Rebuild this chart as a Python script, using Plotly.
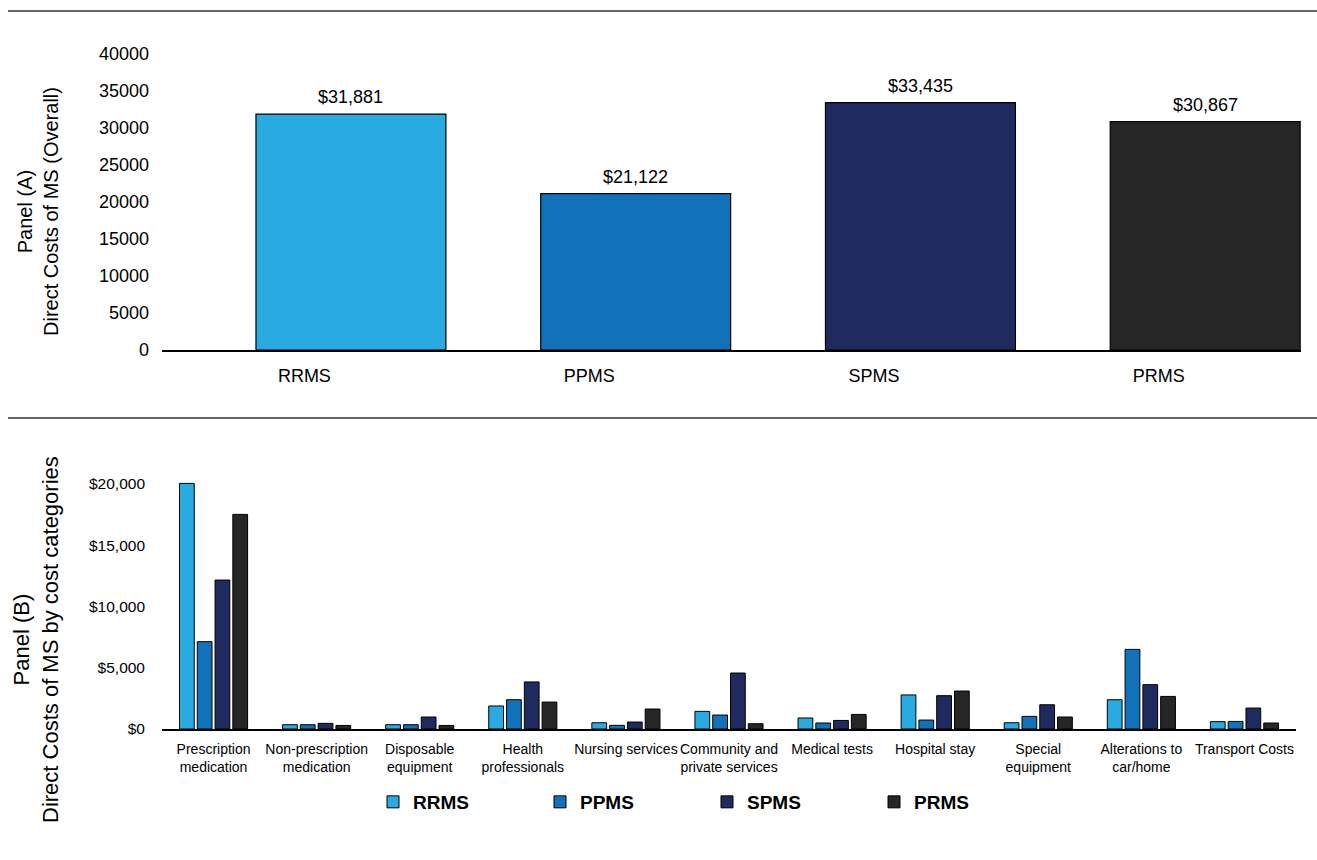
import plotly.graph_objects as go

# ---- data -------------------------------------------------------------
subtypes = ["RRMS", "PPMS", "SPMS", "PRMS"]
overall_costs = [31881, 21122, 33435, 30867]
subtype_colors = ["#29ABE2", "#1172BA", "#1F2A5E", "#262626"]

cost_categories = [
    "Prescription<br>medication",
    "Non-prescription<br>medication",
    "Disposable<br>equipment",
    "Health<br>professionals",
    "Nursing services",
    "Community and<br>private services",
    "Medical tests",
    "Hospital stay",
    "Special<br>equipment",
    "Alterations to<br>car/home",
    "Transport Costs",
]
rrms_costs = [20050, 350, 350, 1880, 510, 1440, 900, 2780, 510, 2390, 600]
ppms_costs = [7130, 350, 350, 2390, 300, 1140, 490, 730, 1030, 6500, 620]
spms_costs = [12160, 460, 980, 3840, 570, 4570, 700, 2720, 1980, 3620, 1710]
prms_costs = [17520, 290, 290, 2200, 1630, 430, 1190, 3100, 980, 2660, 490]

panel_b_series = [rrms_costs, ppms_costs, spms_costs, prms_costs]

# ---- layout constants ---------------------------------------------------
W, H = 1317, 860
ML, MR, MT, MB = 162, 16, 54, 131
PW, PH = W - ML - MR, H - MT - MB
FONT = "Arial, 'Liberation Sans', sans-serif"


def px_x(px):
    return (px - ML) / PW


def px_y(py):
    return (H - MB - py) / PH


bar_offset, bar_width = -0.17, 0.667

fig = go.Figure()

# Panel A: overall direct costs per subtype
fig.add_trace(go.Bar(
    x=list(range(len(subtypes))), y=overall_costs,
    marker=dict(color=subtype_colors, line=dict(color="#000000", width=1.2)),
    width=bar_width, offset=bar_offset, showlegend=False,
    hoverinfo="skip", xaxis="x", yaxis="y",
))
for i, v in enumerate(overall_costs):
    fig.add_annotation(
        x=i + bar_offset + bar_width / 2, y=v, xref="x", yref="y",
        text=f"${v:,.0f}", showarrow=False, yanchor="middle", yshift=17,
        font=dict(size=18, color="#000000", family=FONT),
    )

# Panel B: costs by category
for name, vals, col in zip(subtypes, panel_b_series, subtype_colors):
    fig.add_trace(go.Bar(
        x=cost_categories, y=vals, name=name,
        marker=dict(color=col, line=dict(color="#000000", width=1)),
        xaxis="x2", yaxis="y2", hoverinfo="skip",
    ))

fig.update_layout(
    width=W, height=H,
    margin=dict(l=ML, r=MR, t=MT, b=MB),
    paper_bgcolor="#FFFFFF", plot_bgcolor="#FFFFFF",
    font=dict(family=FONT, color="#000000"),
    barmode="group", bargap=0.31, bargroupgap=0.17,
    xaxis=dict(
        domain=[0, 1], anchor="y", range=[-0.5, 3.5],
        tickvals=list(range(len(subtypes))), ticktext=subtypes,
        tickfont=dict(size=18), ticks="", ticklabelstandoff=9,
        showline=True, linecolor="#000000", linewidth=1.5,
        showgrid=False, zeroline=False,
    ),
    yaxis=dict(
        domain=[px_y(350), 1], anchor="x", range=[0, 40000],
        dtick=5000, tickformat="d", tickfont=dict(size=18),
        ticks="", ticklabelstandoff=12,
        showline=False, showgrid=False, zeroline=False,
    ),
    xaxis2=dict(
        domain=[0, px_x(1296)], anchor="y2",
        tickfont=dict(size=14), ticks="", ticklabelstandoff=6,
        showline=True, linecolor="#000000", linewidth=1.5,
        showgrid=False, zeroline=False,
    ),
    yaxis2=dict(
        domain=[0, px_y(460)], anchor="x2", range=[0, 21960],
        tickvals=[0, 5000, 10000, 15000, 20000],
        tickformat="$,d", tickfont=dict(size=15.5),
        ticks="", ticklabelstandoff=16,
        showline=False, showgrid=False, zeroline=False,
    ),
    legend=dict(
        orientation="h", x=px_x(373), xanchor="left",
        y=px_y(802), yanchor="middle",
        font=dict(size=19, family=FONT, weight="bold"),
        entrywidth=122, entrywidthmode="pixels",
        itemwidth=30, bgcolor="rgba(0,0,0,0)",
    ),
    showlegend=True,
)

# Axis titles for both panels
fig.add_annotation(
    x=px_x(38), y=px_y(212), xref="paper", yref="paper",
    text="Panel (A)<br>Direct Costs of MS (Overall)", textangle=-90,
    showarrow=False, xanchor="center", yanchor="middle",
    font=dict(size=20, family=FONT, color="#000000"),
)
fig.add_annotation(
    x=px_x(36), y=px_y(640), xref="paper", yref="paper",
    text="Panel (B)<br>Direct Costs of MS by cost categories", textangle=-90,
    showarrow=False, xanchor="center", yanchor="middle",
    font=dict(size=22, family=FONT, color="#000000"),
)

# Horizontal rules separating the panels
for py in (11, 418):
    fig.add_shape(
        type="line", xref="paper", yref="paper",
        x0=px_x(8), x1=px_x(W), y0=px_y(py), y1=px_y(py),
        line=dict(color="#333333", width=1.3),
    )

fig.write_html("out.html")
